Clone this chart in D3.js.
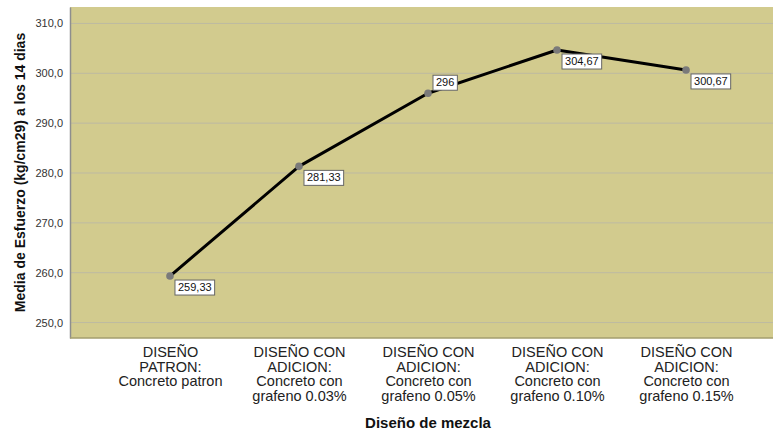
<!DOCTYPE html>
<html>
<head>
<meta charset="utf-8">
<script src="https://cdn.jsdelivr.net/npm/d3@7"></script>
<style>
  html, body { margin: 0; padding: 0; background: #fff; }
  svg { display: block; font-family: "Liberation Sans", Arial, sans-serif; }
</style>
</head>
<body>
<svg id="chart" width="773" height="432"></svg>
<script>
// Mean compressive strength at 14 days per mix design
const categories = [
  ["DISEÑO", "PATRON:", "Concreto patron"],
  ["DISEÑO CON", "ADICION:", "Concreto con", "grafeno 0.03%"],
  ["DISEÑO CON", "ADICION:", "Concreto con", "grafeno 0.05%"],
  ["DISEÑO CON", "ADICION:", "Concreto con", "grafeno 0.10%"],
  ["DISEÑO CON", "ADICION:", "Concreto con", "grafeno 0.15%"]
];
const values = [259.33, 281.33, 296, 304.67, 300.67];
const valueLabels = ["259,33", "281,33", "296", "304,67", "300,67"];
const labelAbove = [false, false, true, false, false];
const yTicks = [250, 260, 270, 280, 290, 300, 310];

const svg = d3.select("#chart");
const plot = { left: 70, right: 786, top: 7, bottom: 338 };

const x = d3.scalePoint()
  .domain(d3.range(categories.length))
  .range([plot.left, plot.right])
  .padding(0.775);

const y = d3.scaleLinear()
  .domain([246.9, 313.3])
  .range([plot.bottom, plot.top]);

// plot background
svg.append("rect")
  .attr("x", plot.left).attr("y", plot.top)
  .attr("width", plot.right - plot.left).attr("height", plot.bottom - plot.top)
  .attr("fill", "#D2CB8E");

// horizontal grid lines
svg.append("g")
  .selectAll("line")
  .data(yTicks)
  .join("line")
  .attr("x1", plot.left).attr("x2", plot.right)
  .attr("y1", d => y(d)).attr("y2", d => y(d))
  .attr("stroke", "#BDBAA2").attr("stroke-width", 1);

// y axis
const yAxis = svg.append("g")
  .attr("transform", `translate(${plot.left},0)`)
  .call(d3.axisLeft(y).tickValues(yTicks).tickSize(0).tickPadding(7)
    .tickFormat(d => d3.format(".1f")(d).replace(".", ",")));
yAxis.select(".domain").attr("stroke", "#8E8E8E").attr("stroke-width", 1.5);
yAxis.selectAll("text").attr("font-size", 11).attr("fill", "#333")
  .attr("font-family", "Liberation Sans, Arial, sans-serif");

// bottom border
svg.append("line")
  .attr("x1", plot.left).attr("x2", plot.right)
  .attr("y1", plot.bottom).attr("y2", plot.bottom)
  .attr("stroke", "#A39E6E").attr("stroke-width", 1.5);

// x axis category labels
const xAxis = svg.append("g")
  .attr("transform", `translate(0,${plot.bottom})`)
  .call(d3.axisBottom(x).tickSize(0).tickFormat(""));
xAxis.select(".domain").remove();
xAxis.selectAll(".tick").each(function(d) {
  const t = d3.select(this).append("text")
    .attr("text-anchor", "middle")
    .attr("fill", "#222")
    .attr("font-size", 14.5)
    .attr("font-family", "Liberation Sans, Arial, sans-serif");
  categories[d].forEach((line, i) => {
    t.append("tspan").attr("x", 0).attr("y", 19 + i * 14.5).text(line);
  });
});

// axis titles
svg.append("text")
  .attr("x", x(2)).attr("y", 428)
  .attr("text-anchor", "middle")
  .attr("font-size", 15).attr("font-weight", "bold").attr("fill", "#111")
  .text("Diseño de mezcla");

svg.append("text")
  .attr("transform", `translate(25,${(plot.top + plot.bottom) / 2}) rotate(-90)`)
  .attr("text-anchor", "middle")
  .attr("font-size", 14).attr("font-weight", "bold").attr("fill", "#111")
  .text("Media de Esfuerzo (kg/cm29) a los 14 dias");

// mean line
const line = d3.line()
  .x((d, i) => x(i))
  .y(d => y(d));
svg.append("path")
  .datum(values)
  .attr("d", line)
  .attr("fill", "none")
  .attr("stroke", "#000")
  .attr("stroke-width", 3)
  .attr("stroke-linejoin", "round");

// points
svg.append("g")
  .selectAll("circle")
  .data(values)
  .join("circle")
  .attr("cx", (d, i) => x(i)).attr("cy", d => y(d))
  .attr("r", 3.8)
  .attr("fill", "#7A7A7A");

// value labels in boxes
const labels = svg.append("g")
  .selectAll("g")
  .data(values)
  .join("g")
  .attr("transform", (d, i) => `translate(${x(i) + 5},${y(d) + (labelAbove[i] ? -18 : 4)})`);

labels.each(function(d, i) {
  const g = d3.select(this);
  const txt = g.append("text")
    .attr("x", 3).attr("y", 11)
    .attr("font-size", 11).attr("fill", "#111")
    .attr("font-family", "Liberation Sans, Arial, sans-serif")
    .text(valueLabels[i]);
  const w = txt.node().getComputedTextLength() + 6;
  g.insert("rect", "text")
    .attr("x", 0).attr("y", 0)
    .attr("width", w).attr("height", 15)
    .attr("fill", "#fff")
    .attr("stroke", "#666").attr("stroke-width", 1);
});
</script>
</body>
</html>
